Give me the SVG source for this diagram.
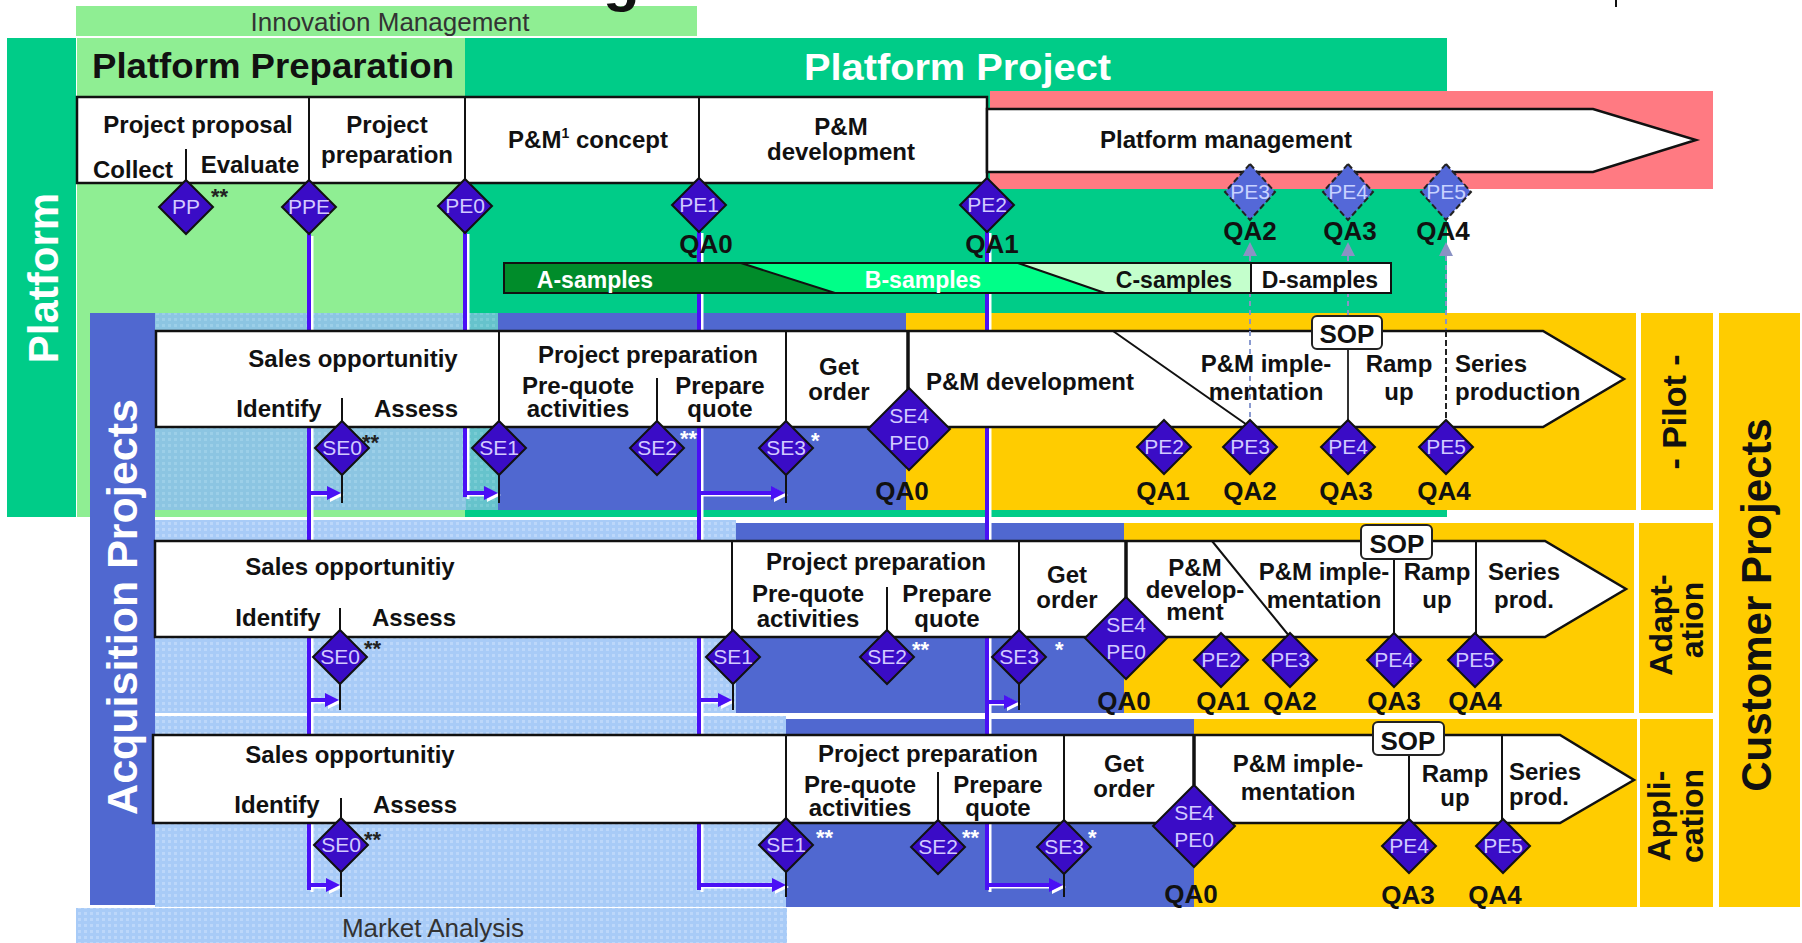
<svg xmlns="http://www.w3.org/2000/svg" width="1802" height="943" viewBox="0 0 1802 943">
<defs>
<style>
.b{font-family:'Liberation Sans',Arial,sans-serif;font-weight:bold;font-size:24px;fill:#111;text-anchor:middle}
.s{text-anchor:start}
.dt{font-family:'Liberation Sans',Arial,sans-serif;font-size:21px;fill:#D2CAFF;text-anchor:middle}
.qa{font-family:'Liberation Sans',Arial,sans-serif;font-weight:bold;font-size:26px;fill:#111;text-anchor:middle}
.ast{font-family:'Liberation Sans',Arial,sans-serif;font-weight:bold;font-size:22px;fill:#222}
.aw{fill:#fff}
.dm{fill:#3A0CC6;stroke:#111;stroke-width:2}
.dl{fill:#5468D8;stroke:#222;stroke-width:2;stroke-dasharray:6 3}
.box{fill:#fff;stroke:#111;stroke-width:2.5;stroke-linejoin:miter}
.dv{stroke:#111;stroke-width:2;fill:none}
.thick{stroke:#111;stroke-width:3.5}
.cn{fill:none;stroke:#4A10F5;stroke-width:4}
.cw{fill:none;stroke:#fff;stroke-width:3}
.gd{fill:none;stroke:#8A92C4;stroke-width:2;stroke-dasharray:5 4}
.sop{fill:#fff;stroke:#222;stroke-width:2}
.vt{font-family:'Liberation Sans',Arial,sans-serif;font-weight:bold;text-anchor:middle}
.bg{font-family:'Liberation Sans',Arial,sans-serif;font-size:26px;fill:#333;text-anchor:middle}
.sm{font-family:'Liberation Sans',Arial,sans-serif;font-weight:bold;font-size:23px;fill:#111;text-anchor:middle}
</style>
<pattern id="pt" width="6" height="6" patternUnits="userSpaceOnUse"><rect width="6" height="6" fill="#A8CBF7"/><rect width="3" height="3" fill="#BCD7FA"/></pattern>
<pattern id="pg" width="6" height="6" patternUnits="userSpaceOnUse"><rect width="6" height="6" fill="#8CC5E2"/><rect width="3" height="3" fill="#9CCFE8"/></pattern>
<pattern id="ptl" width="6" height="6" patternUnits="userSpaceOnUse"><rect width="6" height="6" fill="#66C3CC"/><rect width="3" height="3" fill="#78CCD4"/></pattern>
<polygon id="d27" points="0,-27 27,0 0,27 -27,0"/>
<polygon id="d41" points="0,-41 41,0 0,41 -41,0"/>
<polygon id="dlt" points="0,-28 25,0 0,28 -25,0"/>
<marker id="ab" markerUnits="userSpaceOnUse" markerWidth="14" markerHeight="14" refX="8" refY="7" orient="auto"><path d="M0,0 L14,7 L0,14 z" fill="#4A10F5"/></marker>
<marker id="aw" markerUnits="userSpaceOnUse" markerWidth="14" markerHeight="14" refX="8" refY="7" orient="auto"><path d="M0,0 L14,7 L0,14 z" fill="#fff"/></marker>
</defs>

<!-- backgrounds -->
<g id="backgrounds">
<rect x="76" y="6" width="621" height="30" fill="#8FEE93"/>
<text class="bg" x="390" y="31">Innovation Management</text>
<text x="603" y="0" font-family="'Liberation Sans',Arial,sans-serif" font-weight="bold" font-size="60" fill="#111">g</text>
<line x1="1616" y1="0" x2="1616" y2="7" stroke="#111" stroke-width="2"/>
<rect x="7" y="38" width="69" height="479" fill="#00CC88"/>
<text class="vt" font-size="42" fill="#fff" transform="translate(58,278) rotate(-90)">Platform</text>
<rect x="77" y="38" width="388" height="479" fill="#8FEE93"/>
<rect x="465" y="38" width="982" height="479" fill="#00CC88"/>
<text x="92" y="78" font-family="'Liberation Sans',Arial,sans-serif" font-weight="bold" font-size="35" fill="#111" textLength="362" lengthAdjust="spacingAndGlyphs">Platform Preparation</text>
<text x="804" y="80" font-family="'Liberation Sans',Arial,sans-serif" font-weight="bold" font-size="36" fill="#fff" textLength="307" lengthAdjust="spacingAndGlyphs">Platform Project</text>
<rect x="990" y="91" width="723" height="98" fill="#FF7A82"/>

<!-- pilot band -->
<rect x="155" y="313" width="311" height="197" fill="url(#pg)"/>
<rect x="466" y="313" width="32" height="197" fill="url(#ptl)"/>
<rect x="498" y="313" width="408" height="197" fill="#5068D0"/>
<rect x="906" y="313" width="730" height="197" fill="#FFCC00"/>
<!-- adaptation band -->
<rect x="155" y="520" width="581" height="193" fill="url(#pt)"/>
<rect x="736" y="523" width="388" height="190" fill="#5068D0"/>
<rect x="1124" y="523" width="510" height="190" fill="#FFCC00"/>
<!-- application band -->
<rect x="155" y="716" width="631" height="191" fill="url(#pt)"/>
<rect x="786" y="719" width="408" height="188" fill="#5068D0"/>
<rect x="1194" y="719" width="443" height="188" fill="#FFCC00"/>
<!-- columns -->
<rect x="1641" y="313" width="72" height="197" fill="#FFCC00"/>
<text class="vt" font-size="34" fill="#111" transform="translate(1686,412) rotate(-90)">- Pilot -</text>
<rect x="1639" y="523" width="74" height="190" fill="#FFCC00"/>
<text class="vt" font-size="32" fill="#111" transform="translate(1672,625) rotate(-90)">Adapt-</text>
<text class="vt" font-size="32" fill="#111" transform="translate(1703,620) rotate(-90)">ation</text>
<rect x="1640" y="719" width="73" height="188" fill="#FFCC00"/>
<text class="vt" font-size="32" fill="#111" transform="translate(1670,816) rotate(-90)">Appli-</text>
<text class="vt" font-size="32" fill="#111" transform="translate(1703,816) rotate(-90)">cation</text>
<rect x="1719" y="313" width="81" height="594" fill="#FFCC00"/>
<text class="vt" font-size="42" fill="#111" transform="translate(1771,605) rotate(-90)">Customer Projects</text>
<rect x="90" y="313" width="65" height="592" fill="#5068D0"/>
<text class="vt" font-size="43" fill="#fff" transform="translate(137,607) rotate(-90)">Acquisition Projects</text>
<rect x="76" y="908" width="711" height="35" fill="url(#pt)"/>
<text class="bg" x="433" y="937">Market Analysis</text>
</g>

<!-- connectors -->
<g id="connectors">
<g transform="translate(3,2)">
<path class="cw" d="M309,234 V890 M465,232 V497 M699,231 V890 M987,231 V890"/>
<path class="cw" marker-end="url(#aw)" d="M309,493 H335"/>
<path class="cw" marker-end="url(#aw)" d="M309,700 H333"/>
<path class="cw" marker-end="url(#aw)" d="M309,885 H334"/>
<path class="cw" marker-end="url(#aw)" d="M465,493 H492"/>
<path class="cw" marker-end="url(#aw)" d="M699,493 H779"/>
<path class="cw" marker-end="url(#aw)" d="M699,700 H726"/>
<path class="cw" marker-end="url(#aw)" d="M699,885 H780"/>
<path class="cw" marker-end="url(#aw)" d="M987,702 H1012"/>
<path class="cw" marker-end="url(#aw)" d="M987,885 H1057"/>
</g>
<path class="cn" d="M309,234 V890 M465,232 V497 M699,231 V890 M987,231 V890"/>
<path class="cn" marker-end="url(#ab)" d="M309,493 H335"/>
<path class="cn" marker-end="url(#ab)" d="M309,700 H333"/>
<path class="cn" marker-end="url(#ab)" d="M309,885 H334"/>
<path class="cn" marker-end="url(#ab)" d="M465,493 H492"/>
<path class="cn" marker-end="url(#ab)" d="M699,493 H779"/>
<path class="cn" marker-end="url(#ab)" d="M699,700 H726"/>
<path class="cn" marker-end="url(#ab)" d="M699,885 H780"/>
<path class="cn" marker-end="url(#ab)" d="M987,702 H1012"/>
<path class="cn" marker-end="url(#ab)" d="M987,885 H1057"/>
<path class="dv" d="M342,475 V503 M499,475 V503 M786,475 V503 M340,684 V710 M733,684 V710 M1019,684 V710 M341,872 V897 M786,872 V897 M1064,874 V897"/>
<path class="gd" d="M1250,256 V331 M1348,256 V316 M1446,256 V331"/>
<path d="M1250,242 L1257,256 L1243,256 z M1348,242 L1355,256 L1341,256 z M1446,242 L1453,256 L1439,256 z" fill="#8A92C4"/>
</g>

<!-- samples bar -->
<g id="samples">
<polygon points="504,263 741,263 835,293 504,293" fill="#008C2A"/>
<polygon points="741,263 1018,263 1105,293 835,293" fill="#00FF88"/>
<polygon points="1018,263 1251,263 1251,293 1105,293" fill="#C4FFCC"/>
<rect x="1251" y="263" width="140" height="30" fill="#fff"/>
<rect x="504" y="263" width="887" height="30" fill="none" stroke="#111" stroke-width="2"/>
<path d="M741,263 L835,293 M1018,263 L1105,293 M1251,263 V293" class="dv"/>
<text class="sm" x="595" y="288" style="fill:#fff">A-samples</text>
<text class="sm" x="923" y="288" style="fill:#fff">B-samples</text>
<text class="sm" x="1174" y="288">C-samples</text>
<text class="sm" x="1320" y="288">D-samples</text>
</g>

<!-- platform process row -->
<g id="platform-row">
<rect x="77" y="97" width="910" height="86" class="box"/>
<path class="dv" d="M309,97 V183 M465,97 V183 M699,97 V183 M186,149 V183"/>
<text class="b" x="198" y="133">Project proposal</text>
<text class="b" x="133" y="178">Collect</text>
<text class="b" x="250" y="173">Evaluate</text>
<text class="b" x="387" y="133">Project</text>
<text class="b" x="387" y="163">preparation</text>
<text class="b" x="588" y="148">P&amp;M<tspan font-size="14" dy="-10">1</tspan><tspan dy="10"> concept</tspan></text>
<text class="b" x="841" y="135">P&amp;M</text>
<text class="b" x="841" y="160">development</text>
</g>
<g id="platform-management">
<polygon points="987,109 1593,109 1696,140 1593,172 987,172" class="box"/>
<text class="b" x="1226" y="148">Platform management</text>
</g>

<!-- pilot row -->
<g id="pilot-row">
<polygon points="156,331 1543,331 1624,379 1543,427 156,427" class="box"/>
<path class="dv" d="M499,331 V427 M786,331 V427 M1113,331 L1250,427 M342,398 V427 M657,378 V427"/>
<path class="thick" d="M908,331 V390"/>
<path d="M1250,331 V420" fill="none" stroke="#8A9AD0" stroke-width="2" stroke-dasharray="5 4"/>
<path d="M1348,349 V427" fill="none" stroke="#333" stroke-width="2"/>
<path d="M1446,331 V427" fill="none" stroke="#222" stroke-width="2" stroke-dasharray="6 3"/>
<rect x="1312" y="316" width="70" height="33" rx="5" class="sop"/>
<text class="b" x="1347" y="343" style="font-size:26px">SOP</text>
<text class="b" x="353" y="367">Sales opportunitiy</text>
<text class="b" x="279" y="417">Identify</text>
<text class="b" x="416" y="417">Assess</text>
<text class="b" x="648" y="363">Project preparation</text>
<text class="b" x="578" y="394">Pre-quote</text>
<text class="b" x="578" y="417">activities</text>
<text class="b" x="720" y="394">Prepare</text>
<text class="b" x="720" y="417">quote</text>
<text class="b" x="839" y="375">Get</text>
<text class="b" x="839" y="400">order</text>
<text class="b" x="1030" y="390">P&amp;M development</text>
<text class="b" x="1266" y="372">P&amp;M imple-</text>
<text class="b" x="1266" y="400">mentation</text>
<text class="b" x="1399" y="372">Ramp</text>
<text class="b" x="1399" y="400">up</text>
<text class="b s" x="1455" y="372">Series</text>
<text class="b s" x="1455" y="400">production</text>
</g>

<!-- adaptation row -->
<g id="adaptation-row">
<polygon points="155,541 1545,541 1626,589 1545,637 155,637" class="box"/>
<path class="dv" d="M732,541 V637 M1019,541 V637 M1212,541 L1290,637 M1394,559 V637 M1476,541 V637 M340,608 V637 M887,587 V637"/>
<path class="thick" d="M1126,541 V598"/>
<rect x="1361" y="525" width="71" height="34" rx="5" class="sop"/>
<text class="b" x="1397" y="553" style="font-size:26px">SOP</text>
<text class="b" x="350" y="575">Sales opportunitiy</text>
<text class="b" x="278" y="626">Identify</text>
<text class="b" x="414" y="626">Assess</text>
<text class="b" x="876" y="570">Project preparation</text>
<text class="b" x="808" y="602">Pre-quote</text>
<text class="b" x="808" y="627">activities</text>
<text class="b" x="947" y="602">Prepare</text>
<text class="b" x="947" y="627">quote</text>
<text class="b" x="1067" y="583">Get</text>
<text class="b" x="1067" y="608">order</text>
<text class="b" x="1195" y="576">P&amp;M</text>
<text class="b" x="1195" y="598">develop-</text>
<text class="b" x="1195" y="620">ment</text>
<text class="b" x="1324" y="580">P&amp;M imple-</text>
<text class="b" x="1324" y="608">mentation</text>
<text class="b" x="1437" y="580">Ramp</text>
<text class="b" x="1437" y="608">up</text>
<text class="b s" x="1488" y="580">Series</text>
<text class="b s" x="1494" y="608">prod.</text>
</g>

<!-- application row -->
<g id="application-row">
<polygon points="153,735 1560,735 1634,780 1560,823 153,823" class="box"/>
<path class="dv" d="M786,735 V823 M1064,735 V823 M1409,755 V823 M1502,735 V823 M341,798 V823 M938,772 V823"/>
<path class="thick" d="M1194,735 V785"/>
<rect x="1373" y="722" width="71" height="33" rx="5" class="sop"/>
<text class="b" x="1408" y="750" style="font-size:26px">SOP</text>
<text class="b" x="350" y="763">Sales opportunitiy</text>
<text class="b" x="277" y="813">Identify</text>
<text class="b" x="415" y="813">Assess</text>
<text class="b" x="928" y="762">Project preparation</text>
<text class="b" x="860" y="793">Pre-quote</text>
<text class="b" x="860" y="816">activities</text>
<text class="b" x="998" y="793">Prepare</text>
<text class="b" x="998" y="816">quote</text>
<text class="b" x="1124" y="772">Get</text>
<text class="b" x="1124" y="797">order</text>
<text class="b" x="1298" y="772">P&amp;M imple-</text>
<text class="b" x="1298" y="800">mentation</text>
<text class="b" x="1455" y="782">Ramp</text>
<text class="b" x="1455" y="806">up</text>
<text class="b s" x="1509" y="780">Series</text>
<text class="b s" x="1509" y="805">prod.</text>
</g>

<!-- top milestones -->
<g id="ms-PP"><use href="#d27" x="186" y="207" class="dm"/><text class="dt" x="186" y="214">PP</text><text class="ast" x="211" y="204">**</text></g>
<g id="ms-PPE"><use href="#d27" x="309" y="207" class="dm"/><text class="dt" x="309" y="214">PPE</text></g>
<g id="ms-PE0"><use href="#d27" x="465" y="206" class="dm"/><text class="dt" x="465" y="213">PE0</text></g>
<g id="ms-PE1"><use href="#d27" x="699" y="205" class="dm"/><text class="dt" x="699" y="212">PE1</text><text class="qa" x="706" y="253">QA0</text></g>
<g id="ms-PE2"><use href="#d27" x="987" y="205" class="dm"/><text class="dt" x="987" y="212">PE2</text><text class="qa" x="992" y="253">QA1</text></g>
<g id="ms-PE3"><use href="#dlt" x="1250" y="192" class="dl"/><text class="dt" x="1250" y="199" style="fill:#C8D2FF">PE3</text><text class="qa" x="1250" y="240">QA2</text></g>
<g id="ms-PE4"><use href="#dlt" x="1348" y="192" class="dl"/><text class="dt" x="1348" y="199" style="fill:#C8D2FF">PE4</text><text class="qa" x="1350" y="240">QA3</text></g>
<g id="ms-PE5"><use href="#dlt" x="1446" y="192" class="dl"/><text class="dt" x="1446" y="199" style="fill:#C8D2FF">PE5</text><text class="qa" x="1443" y="240">QA4</text></g>

<!-- pilot milestones -->
<g id="pilot-SE0"><use href="#d27" x="342" y="448" class="dm"/><text class="dt" x="342" y="455">SE0</text><text class="ast" x="362" y="450">**</text></g>
<g id="pilot-SE1"><use href="#d27" x="499" y="448" class="dm"/><text class="dt" x="499" y="455">SE1</text></g>
<g id="pilot-SE2"><use href="#d27" x="657" y="448" class="dm"/><text class="dt" x="657" y="455">SE2</text><text class="ast aw" x="680" y="446">**</text></g>
<g id="pilot-SE3"><use href="#d27" x="786" y="448" class="dm"/><text class="dt" x="786" y="455">SE3</text><text class="ast aw" x="811" y="448">*</text></g>
<g id="pilot-SE4"><use href="#d41" x="909" y="429" class="dm"/><text class="dt" x="909" y="423">SE4</text><text class="dt" x="909" y="450">PE0</text><text class="qa" x="902" y="500">QA0</text></g>
<g id="pilot-PE2"><use href="#d27" x="1164" y="447" class="dm"/><text class="dt" x="1164" y="454">PE2</text><text class="qa" x="1163" y="500">QA1</text></g>
<g id="pilot-PE3"><use href="#d27" x="1250" y="447" class="dm"/><text class="dt" x="1250" y="454">PE3</text><text class="qa" x="1250" y="500">QA2</text></g>
<g id="pilot-PE4"><use href="#d27" x="1348" y="447" class="dm"/><text class="dt" x="1348" y="454">PE4</text><text class="qa" x="1346" y="500">QA3</text></g>
<g id="pilot-PE5"><use href="#d27" x="1446" y="447" class="dm"/><text class="dt" x="1446" y="454">PE5</text><text class="qa" x="1444" y="500">QA4</text></g>

<!-- adaptation milestones -->
<g id="adapt-SE0"><use href="#d27" x="340" y="657" class="dm"/><text class="dt" x="340" y="664">SE0</text><text class="ast" x="364" y="656">**</text></g>
<g id="adapt-SE1"><use href="#d27" x="733" y="657" class="dm"/><text class="dt" x="733" y="664">SE1</text></g>
<g id="adapt-SE2"><use href="#d27" x="887" y="657" class="dm"/><text class="dt" x="887" y="664">SE2</text><text class="ast aw" x="912" y="657">**</text></g>
<g id="adapt-SE3"><use href="#d27" x="1019" y="657" class="dm"/><text class="dt" x="1019" y="664">SE3</text><text class="ast aw" x="1055" y="657">*</text></g>
<g id="adapt-SE4"><use href="#d41" x="1126" y="638" class="dm"/><text class="dt" x="1126" y="632">SE4</text><text class="dt" x="1126" y="659">PE0</text><text class="qa" x="1124" y="710">QA0</text></g>
<g id="adapt-PE2"><use href="#d27" x="1221" y="660" class="dm"/><text class="dt" x="1221" y="667">PE2</text><text class="qa" x="1223" y="710">QA1</text></g>
<g id="adapt-PE3"><use href="#d27" x="1290" y="660" class="dm"/><text class="dt" x="1290" y="667">PE3</text><text class="qa" x="1290" y="710">QA2</text></g>
<g id="adapt-PE4"><use href="#d27" x="1394" y="660" class="dm"/><text class="dt" x="1394" y="667">PE4</text><text class="qa" x="1394" y="710">QA3</text></g>
<g id="adapt-PE5"><use href="#d27" x="1475" y="660" class="dm"/><text class="dt" x="1475" y="667">PE5</text><text class="qa" x="1475" y="710">QA4</text></g>

<!-- application milestones -->
<g id="appl-SE0"><use href="#d27" x="341" y="845" class="dm"/><text class="dt" x="341" y="852">SE0</text><text class="ast" x="364" y="847">**</text></g>
<g id="appl-SE1"><use href="#d27" x="786" y="845" class="dm"/><text class="dt" x="786" y="852">SE1</text><text class="ast aw" x="816" y="845">**</text></g>
<g id="appl-SE2"><use href="#d27" x="938" y="847" class="dm"/><text class="dt" x="938" y="854">SE2</text><text class="ast aw" x="962" y="845">**</text></g>
<g id="appl-SE3"><use href="#d27" x="1064" y="847" class="dm"/><text class="dt" x="1064" y="854">SE3</text><text class="ast aw" x="1088" y="845">*</text></g>
<g id="appl-SE4"><use href="#d41" x="1194" y="826" class="dm"/><text class="dt" x="1194" y="820">SE4</text><text class="dt" x="1194" y="847">PE0</text><text class="qa" x="1191" y="903">QA0</text></g>
<g id="appl-PE4"><use href="#d27" x="1409" y="846" class="dm"/><text class="dt" x="1409" y="853">PE4</text><text class="qa" x="1408" y="904">QA3</text></g>
<g id="appl-PE5"><use href="#d27" x="1503" y="846" class="dm"/><text class="dt" x="1503" y="853">PE5</text><text class="qa" x="1495" y="904">QA4</text></g>
</svg>
